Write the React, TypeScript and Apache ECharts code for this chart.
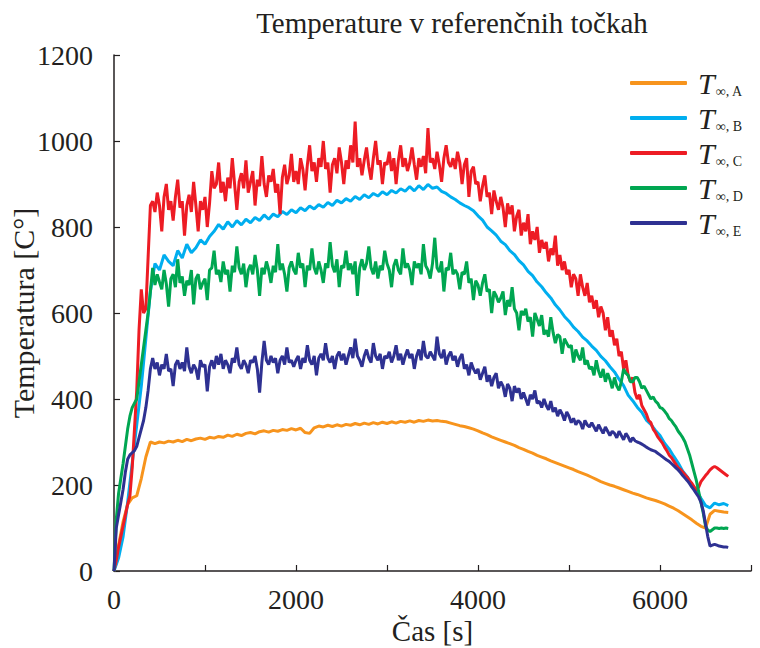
import { useEffect, useRef } from "react";
import * as echarts from "echarts";

// Logging intervals [s]: the smooth probes were stored every 50 s,
// the fluctuating ones every 25 s.
const STEP_SMOOTH = 50;
const STEP_FINE = 25;

const seriesNames = ["A", "B", "C", "D", "E"];
const seriesColors = ["#F7941D", "#00AEEF", "#ED1C24", "#00A651", "#2E3192"];

const xTicks = [0, 2000, 4000, 6000];

// T∞,A  (50 s)
const tempA = [
  0, 60, 115, 155, 170, 175, 215, 265, 300, 296,
  300, 298, 302, 300, 304, 301, 306, 303, 307, 309,
  306, 311, 309, 313, 311, 316, 313, 318, 315, 320,
  322, 319, 324, 326, 323, 327, 325, 329, 327, 331,
  328, 332, 322, 320, 333, 337, 335, 339, 336, 340,
  337, 341, 339, 343, 340, 344, 341, 345, 342, 346,
  343, 347, 344, 348, 346, 349, 346, 350, 348, 351,
  349, 350, 348, 347, 344, 341, 338, 336, 333, 330,
  326, 321, 317, 312, 308, 304, 300, 296, 292, 287,
  283, 278, 274, 269, 265, 261, 256, 252, 248, 244,
  240, 236, 231, 227, 223, 218, 213, 208, 204, 200,
  197, 193, 189, 185, 181, 178, 174, 170, 167, 164,
  160, 156, 151, 146, 140, 133, 126, 119, 111, 104,
  100, 132, 141, 139, 137, 136,
];

// T∞,B  (50 s)
const tempB = [
  0, 30, 80, 160, 250, 340, 430, 540, 650, 715,
  700, 735, 720, 710, 745, 728, 760, 740, 752, 770,
  760, 778, 790, 806, 795, 812, 800, 815, 805, 818,
  810, 822, 815, 828, 818, 830, 824, 836, 829, 840,
  833, 845, 838, 849, 842, 852, 846, 857, 850, 862,
  856, 866, 860, 871, 864, 875, 868, 878, 872, 882,
  875, 885, 879, 889, 883, 894, 884, 896, 887, 899,
  890, 893, 883, 878, 870, 864, 856, 850, 845, 838,
  826, 816, 800, 791, 781, 767, 759, 745, 736, 722,
  712, 697, 687, 672, 661, 647, 635, 619, 607, 592,
  581, 567, 557, 544, 535, 523, 513, 499, 489, 475,
  463, 446, 431, 409, 396, 381, 369, 351, 341, 327,
  315, 297, 284, 267, 251, 232, 219, 201, 187, 169,
  152, 147, 158, 154, 157, 152,
];

// T∞,C  (25 s)
const tempC = [
  0, 25, 55, 80, 105, 130, 155, 175, 240, 330,
  420, 560, 655, 600, 610, 730, 850, 860, 835, 880,
  850, 790, 870, 900, 840, 860, 815, 870, 910, 845,
  860, 780, 850, 875, 835, 905, 850, 790, 860, 840,
  870, 800, 855, 930, 890, 900, 950, 880, 905, 860,
  915, 890, 960, 900, 840, 905, 925, 890, 955, 880,
  905, 930, 850, 910, 895, 965, 900, 870, 920, 905,
  935, 880, 900, 830, 915, 945, 900, 920, 970, 905,
  930, 900, 960, 935, 885, 945, 990, 930, 950, 905,
  960, 940, 1000, 935, 950, 880, 945, 960, 925, 985,
  950, 900, 955, 935, 990, 950, 1045, 940, 960, 920,
  955, 985, 940, 910, 960, 1000, 945, 955, 900, 950,
  945, 975, 930, 960, 900, 955, 990, 940, 960, 930,
  950, 985, 945, 910, 960, 940, 965, 925, 1030, 950,
  960, 935, 975, 945, 905, 960, 990, 950, 940, 960,
  935, 975, 950, 900, 945, 960, 870, 930, 940, 900,
  905, 860, 895, 920, 870, 880, 830, 885, 860, 840,
  870, 845, 800, 855, 830, 850, 790, 825, 840, 780,
  810, 790, 830, 760, 790, 770, 800, 740, 770, 750,
  765, 720, 750, 735, 780, 710, 735, 700, 720, 690,
  700, 660, 690, 680, 640, 690, 660, 640, 670, 625,
  640, 610, 630, 590, 615, 600, 560, 590, 545, 560,
  525, 540, 500, 510, 470, 490, 455, 440, 450, 415,
  400, 410, 385, 375, 365, 350, 345, 330, 322, 312,
  305, 298, 288, 280, 270, 264, 256, 248, 240, 236,
  230, 224, 218, 210, 204, 196, 188, 195, 208, 215,
  222, 228, 235, 240, 243, 240, 236, 232, 228, 224,
  220,
];

// T∞,D  (25 s)
const tempD = [
  0, 120, 180, 215, 250, 290, 330, 360, 380, 390,
  400, 440, 480, 520, 560, 600, 650, 705, 665, 690,
  672, 655, 700, 668, 615, 680, 690, 660, 725, 670,
  685, 640, 675, 665, 700, 620, 680, 690, 655, 670,
  680, 630, 700, 705, 745, 690, 700, 672, 720, 690,
  700, 650, 710, 695, 755, 705, 690, 715, 660, 700,
  712, 690, 735, 700, 640, 705, 690, 720, 700, 670,
  710, 695, 760, 700, 715, 690, 650, 705, 720, 700,
  690, 740, 705, 715, 660, 710, 700, 750, 705, 690,
  720, 700, 670, 715, 705, 765, 710, 695, 725, 660,
  710, 705, 745, 700, 715, 690, 720, 640, 705, 725,
  700, 715, 755, 705, 690, 720, 680, 710, 700, 745,
  715, 700, 660, 710, 725, 700, 690, 750, 705, 715,
  700, 665, 720, 705, 715, 690, 760, 710, 700, 680,
  715, 775, 705, 695, 720, 650, 705, 700, 740, 690,
  700, 690, 655, 695, 690, 720, 670, 680, 630, 675,
  665, 640, 670, 690, 650, 655, 600, 650, 640, 625,
  635, 650, 595, 630, 615, 660, 610, 600, 560, 605,
  595, 610, 580, 590, 545, 600, 585, 570, 595, 550,
  560, 545, 590, 555, 530, 550, 545, 505, 540, 530,
  520, 525, 485, 515, 500, 490, 520, 480, 490, 470,
  475, 455, 490, 465, 450, 470, 440, 460, 445, 425,
  450, 430, 420, 440, 470, 460, 455, 440, 440, 450,
  450, 440, 425, 430, 420, 410, 400, 405, 395, 390,
  380, 378, 372, 365, 355, 350, 342, 335, 325, 318,
  310, 300, 285, 270, 250, 230, 210, 185, 160, 135,
  105, 95, 92, 96, 100, 100, 99, 100, 99, 100,
  99,
];

// T∞,E  (25 s)
const tempE = [
  0, 100, 130, 160, 190, 230, 260, 270, 275, 280,
  290, 310, 330, 350, 380, 420, 470, 495, 470, 485,
  455, 480, 470, 505, 465, 470, 430, 480, 490, 470,
  485, 465, 520, 475, 460, 480, 470, 445, 490, 475,
  480, 418, 475, 490, 470, 500, 480, 505, 470, 490,
  480, 460, 495, 485, 520, 480, 470, 490, 480, 460,
  490, 485, 500, 470, 415, 485, 535, 490, 480, 500,
  485, 495, 460, 490, 500, 480, 520, 485, 490, 475,
  490, 500, 470, 495, 485, 525, 490, 480, 500, 455,
  495, 505, 490, 530, 495, 485, 500, 470, 500, 510,
  490, 505, 480, 500, 520, 495, 540, 500, 490, 475,
  500, 515, 495, 485, 530, 500, 490, 505, 470, 500,
  495, 510, 485, 500, 525, 490, 505, 480, 500, 515,
  495, 505, 470, 500, 515, 490, 535, 500, 495, 510,
  500, 490, 545, 505, 495, 515, 480, 500, 510, 490,
  500, 475, 495, 505, 470, 480, 455, 485, 470, 460,
  470, 445, 460, 475, 440, 455, 430, 450, 460, 425,
  440, 430, 405, 435, 425, 395, 430, 415, 425, 400,
  415, 400, 385, 410, 400, 420, 390, 395, 380, 400,
  385, 375, 395, 370, 380, 360, 375, 365, 350, 370,
  360, 345, 355, 340, 350, 345, 330, 350, 340, 335,
  345, 335, 325, 340, 330, 320, 335, 325, 315, 325,
  320, 310, 325, 315, 305, 320, 312, 300, 310, 303,
  300, 298, 295, 292, 288, 285, 282, 280, 278, 274,
  270, 266, 262, 258, 255, 250, 245, 240, 235, 229,
  222, 216, 210, 203, 195, 188, 180, 172, 160, 140,
  110, 80, 58, 60, 62, 60, 58, 57, 56, 56,
  55,
];

const allTemps = [tempA, tempB, tempC, tempD, tempE];
const allSteps = [STEP_SMOOTH, STEP_SMOOTH, STEP_FINE, STEP_FINE, STEP_FINE];

const FONT = "'Liberation Serif', 'Times New Roman', serif";
const INK = "#231F20";

export default function App() {
  const ref = useRef<HTMLDivElement>(null);

  useEffect(() => {
    if (!ref.current) return;
    const chart = echarts.init(ref.current, null, { renderer: "svg" });

    const series = seriesNames.map((name, k) => ({
      name,
      type: "line" as const,
      showSymbol: false,
      symbol: "none",
      data: allTemps[k].map((v, i) => [i * allSteps[k], v]),
      lineStyle: { width: 3, color: seriesColors[k] },
      itemStyle: { color: seriesColors[k] },
      emphasis: { disabled: true },
      z: 2 + k,
    }));

    chart.setOption({
      animation: false,
      backgroundColor: "#ffffff",
      title: {
        text: "Temperature v referenčnih točkah",
        left: 447,
        top: 3,
        textAlign: "center",
        textStyle: {
          fontFamily: FONT,
          fontWeight: "normal",
          fontSize: 29,
          color: INK,
        },
      },
      legend: {
        orient: "vertical",
        left: 625,
        top: 63,
        itemWidth: 57,
        itemHeight: 4,
        itemGap: 5,
        icon: "roundRect",
        data: seriesNames,
        formatter: (name: string) => `{t|T}{s|∞, ${name}}`,
        textStyle: {
          rich: {
            t: {
              fontFamily: FONT,
              fontStyle: "italic",
              fontSize: 30,
              lineHeight: 30,
              color: INK,
              padding: [0, 0, 0, 6],
            },
            s: {
              fontFamily: FONT,
              fontSize: 14,
              color: INK,
              verticalAlign: "bottom",
              padding: [0, 0, 0, 1],
            },
          },
        },
      },
      grid: {
        left: 114,
        right: 9,
        top: 55,
        bottom: 77,
        containLabel: false,
        outerBoundsMode: "none",
      },
      xAxis: {
        type: "value",
        min: 0,
        max: 7000,
        interval: 1000,
        name: "Čas [s]",
        nameLocation: "middle",
        nameGap: 45,
        nameMoveOverlap: false,
        nameTextStyle: { fontFamily: FONT, fontSize: 29, color: INK },
        axisLine: { show: true, lineStyle: { color: INK, width: 1.5 } },
        axisTick: { show: true, inside: true, length: 6, lineStyle: { color: INK, width: 1.2 } },
        axisLabel: {
          fontFamily: FONT,
          fontSize: 28,
          color: INK,
          margin: 14,
          formatter: (v: number) => (xTicks.includes(v) ? String(v) : ""),
        },
        splitLine: { show: false },
      },
      yAxis: {
        type: "value",
        min: 0,
        max: 1200,
        interval: 200,
        name: "Temperatura [C°]",
        nameLocation: "middle",
        nameGap: 76,
        nameRotate: 90,
        nameMoveOverlap: false,
        nameTextStyle: { fontFamily: FONT, fontSize: 30, color: INK },
        axisLine: { show: true, lineStyle: { color: INK, width: 1.5 } },
        axisTick: { show: true, inside: true, length: 6, lineStyle: { color: INK, width: 1.2 } },
        axisLabel: {
          fontFamily: FONT,
          fontSize: 28,
          color: INK,
          margin: 21,
          formatter: (v: number) => String(v),
        },
        splitLine: { show: false },
      },
      series,
    });

    return () => chart.dispose();
  }, []);

  return (
    <div
      ref={ref}
      style={{ position: "fixed", left: 0, top: 0, width: 760, height: 648 }}
    />
  );
}
